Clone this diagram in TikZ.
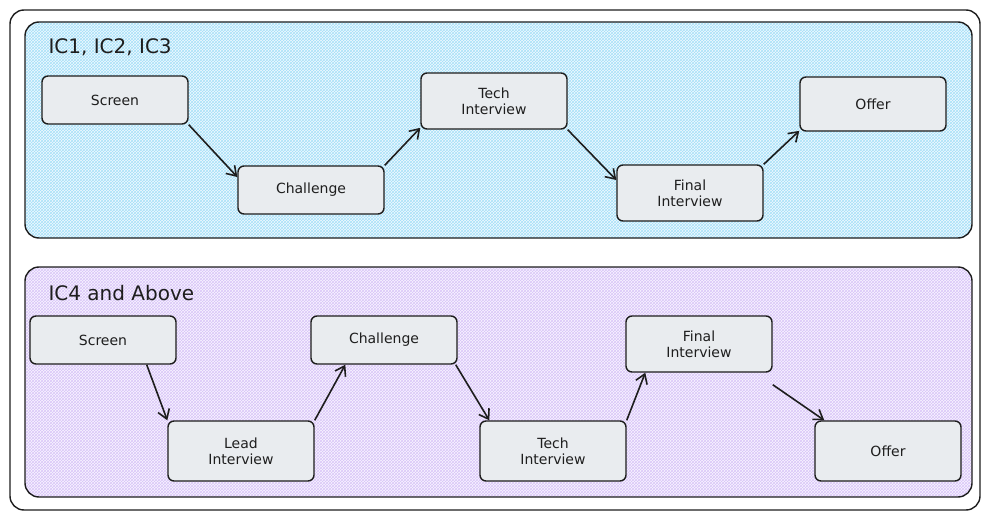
\documentclass[tikz,border=0pt]{standalone}
\usepackage{fontspec}
\setmainfont{DejaVu Sans}
\usetikzlibrary{patterns,arrows.meta}
\definecolor{bluep}{HTML}{A5D8FF}
\definecolor{bluel}{HTML}{4DC3F0}
\definecolor{purp}{HTML}{D0BFFF}
\definecolor{purl}{HTML}{B38CF0}
\definecolor{boxg}{HTML}{E9ECEF}
\definecolor{ink}{HTML}{1E1E1E}
\tikzset{
 panel/.style={draw=ink,line width=1.4pt,rounded corners=14pt},
 box/.style={draw=ink,line width=1.4pt,fill=boxg,rounded corners=6pt,minimum width=146pt,minimum height=48pt,align=center,font=\fontsize{14}{16}\selectfont,text=ink},
 arr/.style={draw=ink,line width=1.6pt,-{Straight Barb[length=9pt,width=12pt]}},
 title/.style={anchor=west,font=\fontsize{20}{22}\selectfont,text=ink}
}
\begin{document}
\begin{tikzpicture}[x=1pt,y=-1pt]
\useasboundingbox (0,0) rectangle (989,519);
\fill[white] (0,0) rectangle (989,519);
\draw[panel] (10,10) rectangle (980,510);
\fill[bluep!15,rounded corners=14pt] (25,22) rectangle (972,238);
\fill[pattern=crosshatch,pattern color=bluel!50,rounded corners=14pt] (25,22) rectangle (972,238);
\draw[panel] (25,22) rectangle (972,238);
\fill[purp!15,rounded corners=14pt] (25,267) rectangle (972,497);
\fill[pattern=crosshatch,pattern color=purl!50,rounded corners=14pt] (25,267) rectangle (972,497);
\draw[panel] (25,267) rectangle (972,497);
\node[title] (t1) at (45,47) {IC1, IC2, IC3};
\node[title] (t2) at (45,293) {IC4 and Above};
\node[box] (s1) at (115,100) {Screen};
\node[box] (c1) at (311,190) {Challenge};
\node[box,minimum height=56pt] (te1) at (494,101) {Tech\\Interview};
\node[box,minimum height=56pt] (f1) at (690,193) {Final\\Interview};
\node[box,minimum height=54pt] (o1) at (873,104) {Offer};
\draw[arr] (s1.south east) -- (c1.170);
\draw[arr] (c1.north east) -- (te1.200);
\draw[arr] (te1.south east) -- (f1.170);
\draw[arr] (f1.north east) -- (o1.200);
\node[box] (s2) at (103,340) {Screen};
\node[box,minimum height=60pt] (l2) at (241,451) {Lead\\Interview};
\node[box] (c2) at (384,340) {Challenge};
\node[box,minimum height=60pt] (te2) at (553,451) {Tech\\Interview};
\node[box,minimum height=56pt] (f2) at (699,344) {Final\\Interview};
\node[box,minimum height=60pt] (o2) at (888,451) {Offer};
\draw[arr] ([xshift=-30pt]s2.south east) -- (l2.north west);
\draw[arr] (l2.north east) -- ([xshift=35pt]c2.south west);
\draw[arr] ([xshift=-2pt]c2.south east) -- ([xshift=10pt]te2.north west);
\draw[arr] (te2.north east) -- ([xshift=20pt]f2.south west);
\draw[arr] ([yshift=-12pt]f2.south east) -- ([xshift=10pt]o2.north west);
\end{tikzpicture}
\end{document}
